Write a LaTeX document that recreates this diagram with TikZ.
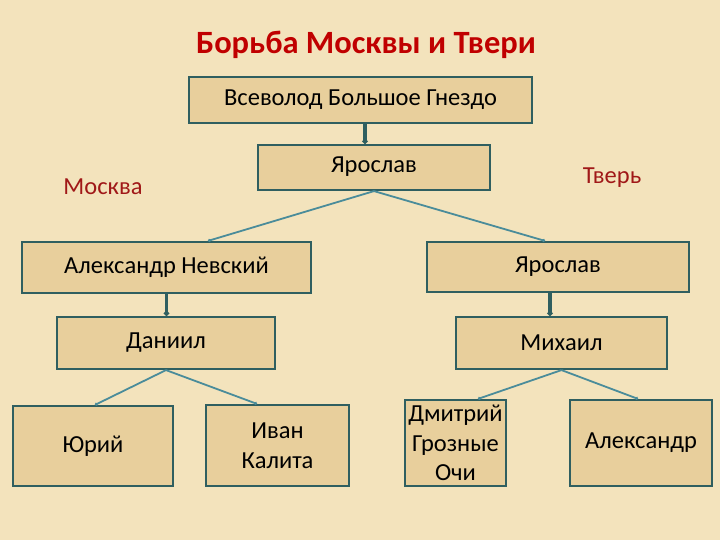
\documentclass[tikz,border=0pt]{standalone}
\usepackage{fontspec}
\setmainfont{Carlito}
\usepackage{xcolor}
\usepackage{tikz}
\usetikzlibrary{arrows.meta,positioning,calc}

\definecolor{paper}{HTML}{F3E3BC}
\definecolor{papyrus}{HTML}{E8CF9C}
\definecolor{frame}{HTML}{2F5F60}
\definecolor{twig}{HTML}{4A8C9A}
\definecolor{titlered}{HTML}{C00000}
\definecolor{sidered}{HTML}{A01818}

\tikzset{
    person/.style={draw=frame, line width=2.2pt, fill=papyrus, inner sep=0pt,
        font=\fontsize{24.5}{29.5}\selectfont, align=center},
    trunk/.style={draw=frame, line width=3.5pt, -{Circle[length=5pt]}},
    twig/.style={draw=twig, line width=1.8pt, -{Circle[length=3pt]}}
}

\begin{document}
\begin{tikzpicture}[x=1pt,y=1pt]
    \fill[paper] (0,0) rectangle (720,540);
    \useasboundingbox (0,0) rectangle (720,540);

    \node[font=\fontsize{32.5}{36}\bfseries\selectfont, text=titlered] (title) at (366,495) {Борьба Москвы и Твери};
    \node[font=\fontsize{24.5}{28}\selectfont, text=sidered] (moscow) at (103,353) {Москва};
    \node[font=\fontsize{24.5}{28}\selectfont, text=sidered] (tver) at (612,362) {Тверь};

    \node[person, minimum width=343pt, minimum height=46pt] (vsevolod) at (360.5,440) {Всеволод Большое Гнездо};
    \node[person, minimum width=232pt, minimum height=45pt] (yaroslavA) at (374,372.5) {\raisebox{5pt}{Ярослав}};
    \node[person, minimum width=289pt, minimum height=51pt] (nevsky) at (166.5,272.5) {Александр Невский};
    \node[person, minimum width=262pt, minimum height=50pt] (yaroslavB) at (558,273) {Ярослав};
    \node[person, minimum width=218pt, minimum height=52pt] (daniil) at (166,197) {Даниил};
    \node[person, minimum width=211pt, minimum height=52pt] (mikhail) at (561.5,197) {Михаил};
    \node[person, minimum width=160pt, minimum height=80pt] (yuri) at (93,94) {Юрий};
    \node[person, minimum width=143pt, minimum height=81pt] (ivan) at (277.5,94.5) {Иван\\Калита};
    \node[person, minimum width=101pt, minimum height=86pt] (dmitry) at (455.5,97) {Дмитрий\\Грозные\\Очи};
    \node[person, minimum width=142pt, minimum height=86pt] (alexandr) at (641,97) {Александр};

    \draw[trunk] ([xshift=-9pt]yaroslavA.north |- vsevolod.south) -- ([xshift=-9pt]yaroslavA.north);
    \draw[twig] (yaroslavA.south) -- ([xshift=41.5pt]nevsky.north);
    \draw[twig] (yaroslavA.south) -- ([xshift=-13pt]yaroslavB.north);
    \draw[trunk] (nevsky.south) -- (nevsky.south |- daniil.north);
    \draw[trunk] ([xshift=-8pt]yaroslavB.south) -- ([xshift=-8pt]yaroslavB.south |- mikhail.north);
    \draw[twig] (daniil.south) -- ([xshift=2pt]yuri.north);
    \draw[twig] (daniil.south) -- ([xshift=-20.5pt]ivan.north);
    \draw[twig] (mikhail.south) -- ([xshift=22.5pt]dmitry.north);
    \draw[twig] (mikhail.south) -- ([xshift=-3pt]alexandr.north);
\end{tikzpicture}
\end{document}
